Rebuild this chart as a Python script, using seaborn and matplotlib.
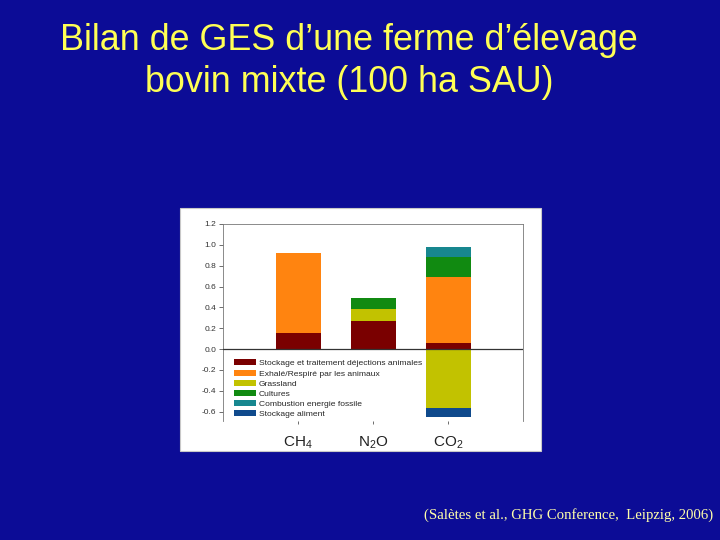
import numpy as np
import pandas as pd
import matplotlib
matplotlib.use("Agg")
import matplotlib.pyplot as plt
from matplotlib.patches import Patch, Rectangle
import seaborn as sns

# data
gases = ["CH$_4$", "N$_2$O", "CO$_2$"]
sources = ["Stockage et traitement déjections animales",
           "Exhalé/Respiré par les animaux",
           "Grassland",
           "Cultures",
           "Combustion energie fossile",
           "Stockage aliment"]
colors = ["#7a0000", "#ff8410", "#c2c200", "#118a11", "#17878f", "#0f4a8c"]

stockage_dejections = [0.155, 0.27, 0.06]
exhale = [0.765, 0.0, 0.634]
grassland_pos = [0.0, 0.117, 0.0]
cultures = [0.0, 0.106, 0.192]
combustion = [0.0, 0.0, 0.096]
grassland_neg = [0.0, 0.0, -0.566]
stockage_aliment = [0.0, 0.0, -0.084]

BG = "#0c0c96"
YEL = "#ffff55"

sns.set_theme(style="white")
plt.rcParams["font.family"] = ["Liberation Sans", "DejaVu Sans"]
plt.rcParams["mathtext.default"] = "regular"
plt.rcParams["axes.unicode_minus"] = False

fig = plt.figure(figsize=(7.2, 5.4), dpi=100, facecolor=BG)

# white panel behind the chart
fig.patches.append(Rectangle((180 / 720, 1 - 451 / 540), 361 / 720, 243 / 540,
                             transform=fig.transFigure, facecolor="white",
                             edgecolor="#c8c8c8", lw=0.8, zorder=-5))

ax = fig.add_axes([223 / 720, 1 - 421 / 540, 300 / 720, 197 / 540])
ax.set_zorder(2)
ax.set_facecolor("white")

# positive stack (drawn from the top layer down so lower layers cover)
pos_layers = [stockage_dejections, exhale, grassland_pos, cultures, combustion]
pos_colors = [colors[0], colors[1], colors[2], colors[3], colors[4]]
cum = np.cumsum(np.array(pos_layers), axis=0)
for i in reversed(range(len(pos_layers))):
    df = pd.DataFrame({"gas": gases, "val": cum[i]})
    sns.barplot(data=df, x="gas", y="val", order=gases, color=pos_colors[i],
                saturation=1, width=0.6, ax=ax, linewidth=0)

# negative stack
neg_layers = [grassland_neg, stockage_aliment]
neg_colors = [colors[2], colors[5]]
cumn = np.cumsum(np.array(neg_layers), axis=0)
for i in reversed(range(len(neg_layers))):
    df = pd.DataFrame({"gas": gases, "val": cumn[i]})
    sns.barplot(data=df, x="gas", y="val", order=gases, color=neg_colors[i],
                saturation=1, width=0.6, ax=ax, linewidth=0)

ax.axhline(0, color="#333333", lw=0.9, zorder=5)
ax.set_xlim(-1, 3)
ax.set_ylim(-0.69, 1.2)
ax.set_yticks(np.arange(-0.6, 1.21, 0.2))
ax.set_yticklabels([f"{v:.1f}" for v in np.arange(-0.6, 1.21, 0.2)], fontsize=6, color="#333333")
ax.set_xticks(range(3))
ax.set_xticklabels(gases, fontsize=11, color="#222222")
ax.tick_params(axis="y", length=3, width=0.6, color="#555555", pad=2, direction="out", left=True)
ax.tick_params(axis="x", length=2, width=0.6, color="#555555", pad=8, direction="out", bottom=True)
ax.set_xlabel("")
ax.set_ylabel("")
for s in ax.spines.values():
    s.set_color("#777777")
    s.set_linewidth(0.6)
ax.spines["bottom"].set_visible(False)

handles = [Patch(facecolor=c, edgecolor="none") for c in colors]
ax.legend(handles, sources, loc="upper left", bbox_to_anchor=(0.025, 0.33),
          frameon=False, fontsize=6.1, handlelength=2.6, handleheight=0.7,
          labelspacing=0.27, handletextpad=0.35, borderaxespad=0)

fig.text(349 / 720, 1 - 40 / 540, "Bilan de GES d\u2019une ferme d\u2019élevage",
         ha="center", va="center", fontsize=25.8, color=YEL)
fig.text(349 / 720, 1 - 83 / 540, "bovin mixte (100 ha SAU)",
         ha="center", va="center", fontsize=25.8, color=YEL)
fig.text(424 / 720, 1 - 515 / 540, "(Salètes et al., GHG Conference,  Leipzig, 2006)",
         ha="left", va="center", fontsize=10.6, color="#ffffaa",
         family=["Liberation Serif", "DejaVu Serif"])

fig.savefig("out.png", dpi=100, facecolor=BG)
